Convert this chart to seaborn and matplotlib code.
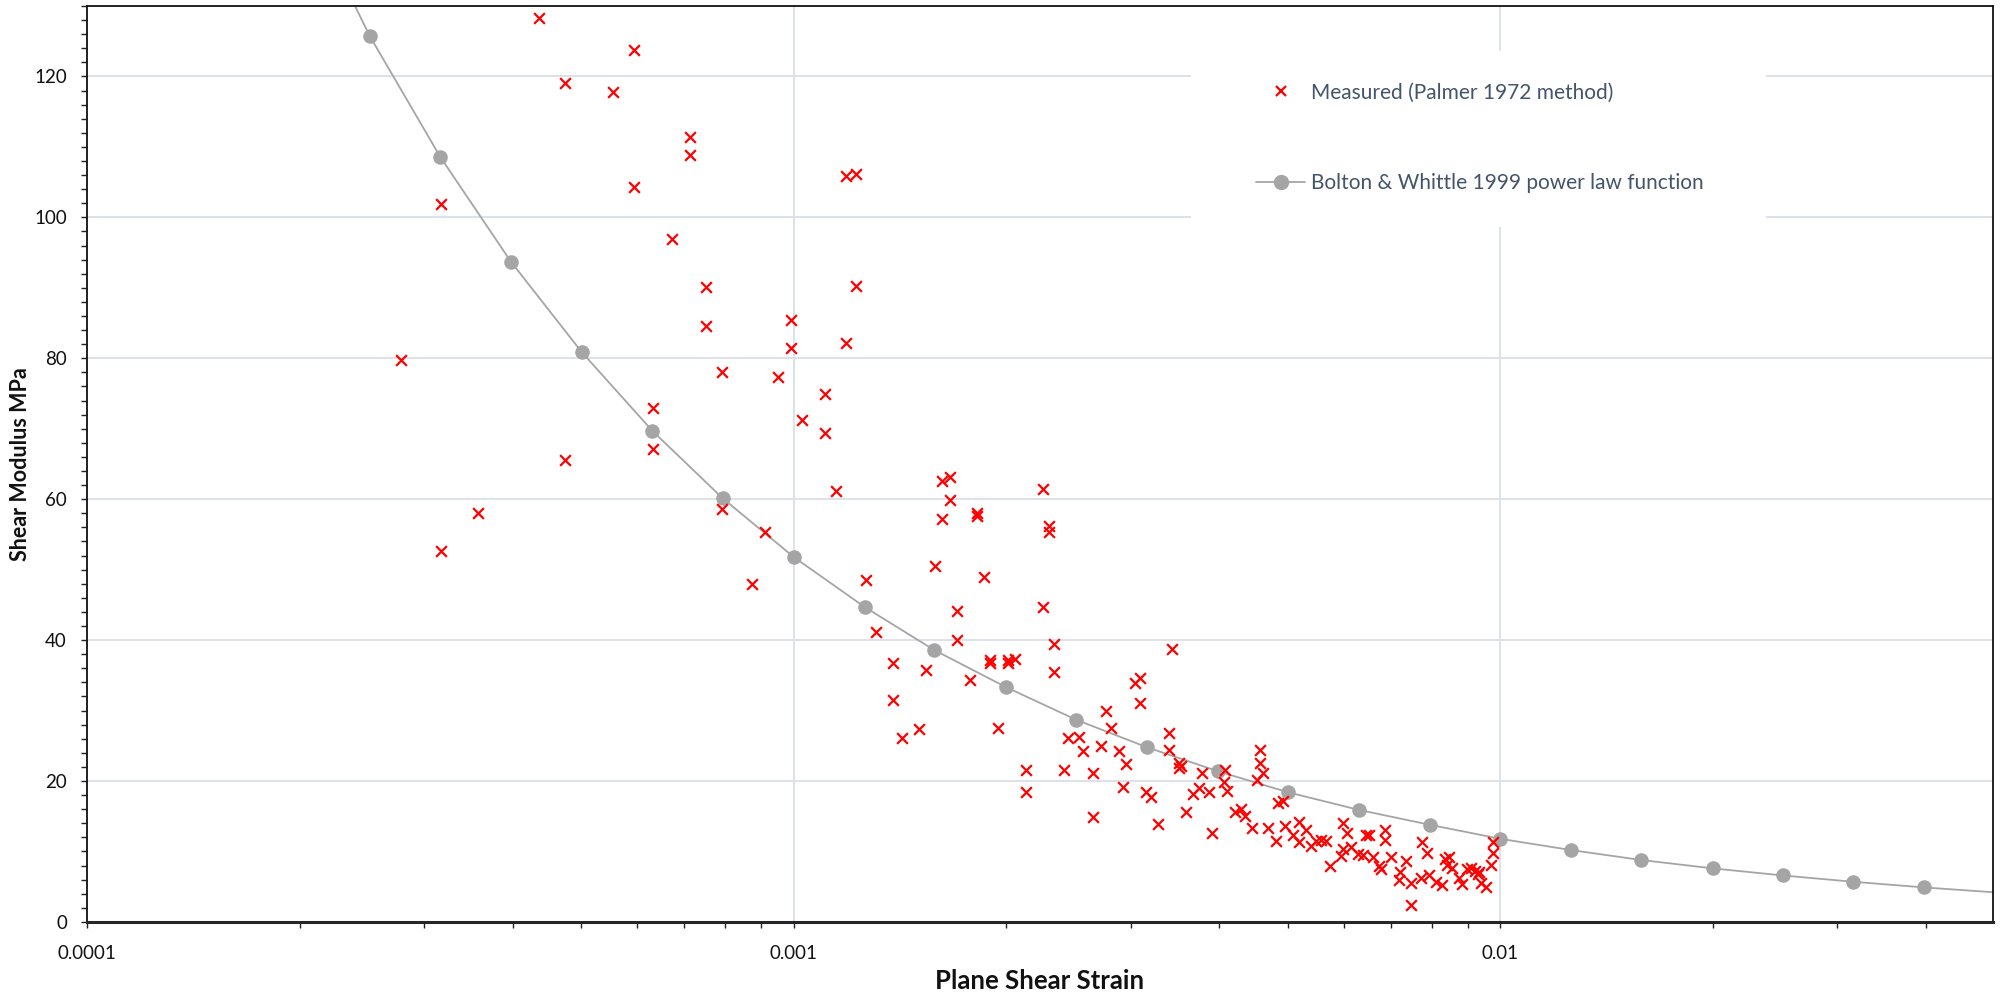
import numpy as np
import pandas as pd
import seaborn as sns
import matplotlib.pyplot as plt
from matplotlib.lines import Line2D
from matplotlib.patches import Rectangle
from matplotlib.ticker import LogLocator, FixedLocator, MultipleLocator, NullFormatter

# Measured points (Palmer 1972 method)
measured_strain = [
    0.000436, 0.000594, 0.000475, 0.000555, 0.000713, 0.000713, 0.000317, 0.000594,
    0.000672, 0.000278, 0.000633, 0.000633, 0.000475, 0.000357, 0.000317, 0.001185,
    0.001224, 0.000752, 0.001226, 0.000752, 0.000990, 0.000990, 0.001185, 0.000792,
    0.000949, 0.001108, 0.001029, 0.001108, 0.001147, 0.001620, 0.001662, 0.002252,
    0.001662, 0.000792, 0.001620, 0.001817, 0.001817, 0.002295, 0.002295, 0.000910,
    0.000872, 0.001583, 0.001266, 0.001858, 0.002252, 0.001700, 0.001307, 0.001700,
    0.002332, 0.003433, 0.001384, 0.001898, 0.001898, 0.002010, 0.002010, 0.002059,
    0.002332, 0.001541, 0.001774, 0.003037, 0.003087, 0.003087, 0.001384, 0.002763,
    0.002808, 0.001503, 0.001945, 0.001422, 0.002443, 0.002533, 0.003392, 0.003392,
    0.002566, 0.002724, 0.002882, 0.002955, 0.003511, 0.003511, 0.003530, 0.004572,
    0.004572, 0.004611, 0.004521, 0.002134, 0.002134, 0.002409, 0.002651, 0.002651,
    0.002922, 0.003154, 0.003206, 0.003276, 0.003594, 0.003785, 0.003671, 0.003744,
    0.003868, 0.004083, 0.004070, 0.004101, 0.003906, 0.004219, 0.004298, 0.004345,
    0.004455, 0.004688, 0.004807, 0.004842, 0.004922, 0.004965, 0.005196, 0.005084,
    0.005311, 0.005196, 0.005398, 0.005487, 0.005577, 0.005669, 0.005748, 0.005984,
    0.006062, 0.005984, 0.005952, 0.006149, 0.006284, 0.006386, 0.006457, 0.006527,
    0.006613, 0.006744, 0.006781, 0.006876, 0.006876, 0.007006, 0.007213, 0.007197,
    0.007356, 0.007477, 0.007477, 0.007749, 0.007867, 0.007724, 0.007936, 0.008112,
    0.008271, 0.008361, 0.008471, 0.008398, 0.008546, 0.008750, 0.008827, 0.008961,
    0.009090, 0.009219, 0.009289, 0.009340, 0.009392, 0.009546, 0.009702, 0.009774,
    0.009752,
]
measured_modulus = [
    128.3, 123.8, 119.0, 117.8, 111.4, 108.9, 101.9, 104.3,
    97.0, 79.7, 72.9, 67.1, 65.6, 58.0, 52.7, 105.8,
    106.1, 90.1, 90.3, 84.6, 85.4, 81.4, 82.2, 78.1,
    77.3, 75.0, 71.2, 69.4, 61.1, 62.6, 63.2, 61.5,
    59.9, 58.6, 57.2, 58.1, 57.6, 56.2, 55.4, 55.3,
    47.9, 50.5, 48.6, 48.9, 44.7, 44.1, 41.1, 40.0,
    39.5, 38.7, 36.7, 37.2, 36.7, 37.2, 36.7, 37.3,
    35.5, 35.8, 34.4, 33.9, 34.6, 31.1, 31.5, 29.9,
    27.5, 27.4, 27.5, 26.1, 26.1, 26.3, 26.8, 24.4,
    24.3, 25.0, 24.3, 22.4, 22.5, 21.8, 22.2, 24.4,
    22.6, 21.2, 20.2, 21.5, 18.4, 21.5, 21.2, 14.9,
    19.2, 18.5, 17.8, 13.9, 15.6, 21.2, 18.2, 19.0,
    18.4, 21.5, 19.8, 18.6, 12.6, 15.6, 16.0, 15.1,
    13.3, 13.3, 11.5, 16.9, 17.2, 13.6, 14.2, 12.3,
    13.1, 11.3, 10.8, 11.5, 11.7, 11.5, 7.9, 14.0,
    12.6, 10.4, 9.3, 10.6, 9.7, 9.5, 12.3, 12.3,
    9.2, 7.9, 7.5, 13.1, 11.6, 9.2, 7.1, 6.0,
    8.7, 5.5, 2.4, 11.4, 9.8, 6.3, 6.7, 5.7,
    5.2, 9.0, 9.2, 8.1, 7.6, 6.2, 5.4, 7.5,
    7.6, 7.3, 6.8, 7.1, 5.5, 4.9, 8.1, 9.8,
    11.3,
]

# Bolton & Whittle 1999 power law curve, read at the plotted markers
curve_strain = [
    0.000200, 0.000251, 0.000316, 0.000398, 0.000501, 0.000631, 0.000794, 0.001,
    0.00126, 0.00158, 0.00200, 0.00251, 0.00316, 0.00398, 0.00501, 0.00631,
    0.00794, 0.0100, 0.0126, 0.0158, 0.0200, 0.0251, 0.0316, 0.0398, 0.0501,
]
curve_modulus = [
    146.0, 125.8, 108.6, 93.7, 80.9, 69.7, 60.1, 51.8,
    44.7, 38.6, 33.3, 28.7, 24.8, 21.4, 18.4, 15.9,
    13.8, 11.8, 10.2, 8.8, 7.6, 6.6, 5.7, 4.9, 4.2,
]

x_tick_values = [0.0001, 0.001, 0.01]
x_tick_labels = ["0.0001", "0.001", "0.01"]

df_meas = pd.DataFrame({"strain": measured_strain, "modulus": measured_modulus})
df_curve = pd.DataFrame({"strain": curve_strain, "modulus": curve_modulus})

sns.set_theme(style="white")
plt.rcParams["font.family"] = ["Lato", "DejaVu Sans"]

RED = "#FF0000"
GREY = "#A5A5A5"
GRID = "#DDE2EA"

fig = plt.figure(figsize=(20.02, 9.98), dpi=100)
ax = fig.add_axes([0.0435, 0.0762, 0.9520, 0.9178])
ax.set_xscale("log")

# Curve: full line, markers on the points inside the plot
sns.lineplot(data=df_curve, x="strain", y="modulus", ax=ax, sort=False,
             color=GREY, linewidth=1.3, zorder=2)
sns.scatterplot(data=df_curve.iloc[1:-1], x="strain", y="modulus", ax=ax,
                color=GREY, marker="o", s=110, edgecolor=GREY, linewidth=0, zorder=3)

# Measured
sns.scatterplot(data=df_meas, x="strain", y="modulus", ax=ax,
                color=RED, marker="x", s=60, linewidth=1.6, zorder=4)

ax.set_xlim(0.0001, 0.0498)
ax.set_ylim(0, 130)

ax.xaxis.set_major_locator(FixedLocator(x_tick_values))
ax.set_xticks(x_tick_values, x_tick_labels)
ax.xaxis.set_minor_locator(LogLocator(base=10, subs=np.arange(2, 10)))
ax.xaxis.set_minor_formatter(NullFormatter())
ax.yaxis.set_major_locator(MultipleLocator(20))
ax.yaxis.set_minor_locator(MultipleLocator(2))
ax.set_yticks(np.arange(0, 121, 20))

ax.grid(True, which="major", color=GRID, linewidth=1.4, zorder=0)
ax.set_axisbelow(True)

ax.tick_params(axis="both", which="both", direction="out", color="#222222",
               bottom=True, left=True, top=False, right=False)
ax.tick_params(axis="both", which="major", length=4.5, width=1.0,
               labelsize=13.5, labelcolor="#111111")
ax.tick_params(axis="both", which="minor", length=4.5, width=1.0)
ax.tick_params(axis="x", which="major", pad=12)
ax.tick_params(axis="y", which="major", pad=10)

for side in ["top", "right", "left"]:
    ax.spines[side].set_visible(True)
    ax.spines[side].set_color("#111111")
    ax.spines[side].set_linewidth(1.3)
ax.spines["bottom"].set_color("#262626")
ax.spines["bottom"].set_linewidth(2.2)

ax.set_xlabel("Plane Shear Strain", fontsize=18.5, fontweight="bold",
              color="#111111", labelpad=5)
ax.set_ylabel("Shear Modulus MPa", fontsize=15.5, fontweight="bold",
              color="#111111", labelpad=2)

# White legend area that hides the gridlines, as in the original
ax.add_patch(Rectangle((0.5949, 0.7725), 0.2872, 0.1764, transform=fig.transFigure,
                       facecolor="white", edgecolor="none", zorder=4.5))

handles = [
    Line2D([], [], linestyle="none", marker="x", color=RED,
           markersize=7.5, markeredgewidth=1.6),
    Line2D([], [], linestyle="-", marker="o", color=GREY,
           markersize=10, linewidth=1.3),
]
labels = ["Measured (Palmer 1972 method)", "Bolton & Whittle 1999 power law function"]
leg = ax.legend(handles, labels, loc="center left",
                bbox_to_anchor=(0.6274, 0.8617), bbox_transform=fig.transFigure,
                frameon=False, fontsize=15, labelspacing=3.4, handlelength=2.35,
                handletextpad=0.3, borderpad=0, borderaxespad=0)
for t in leg.get_texts():
    t.set_color("#44546A")
leg.set_zorder(5)

plt.savefig("out.png", dpi=100)
